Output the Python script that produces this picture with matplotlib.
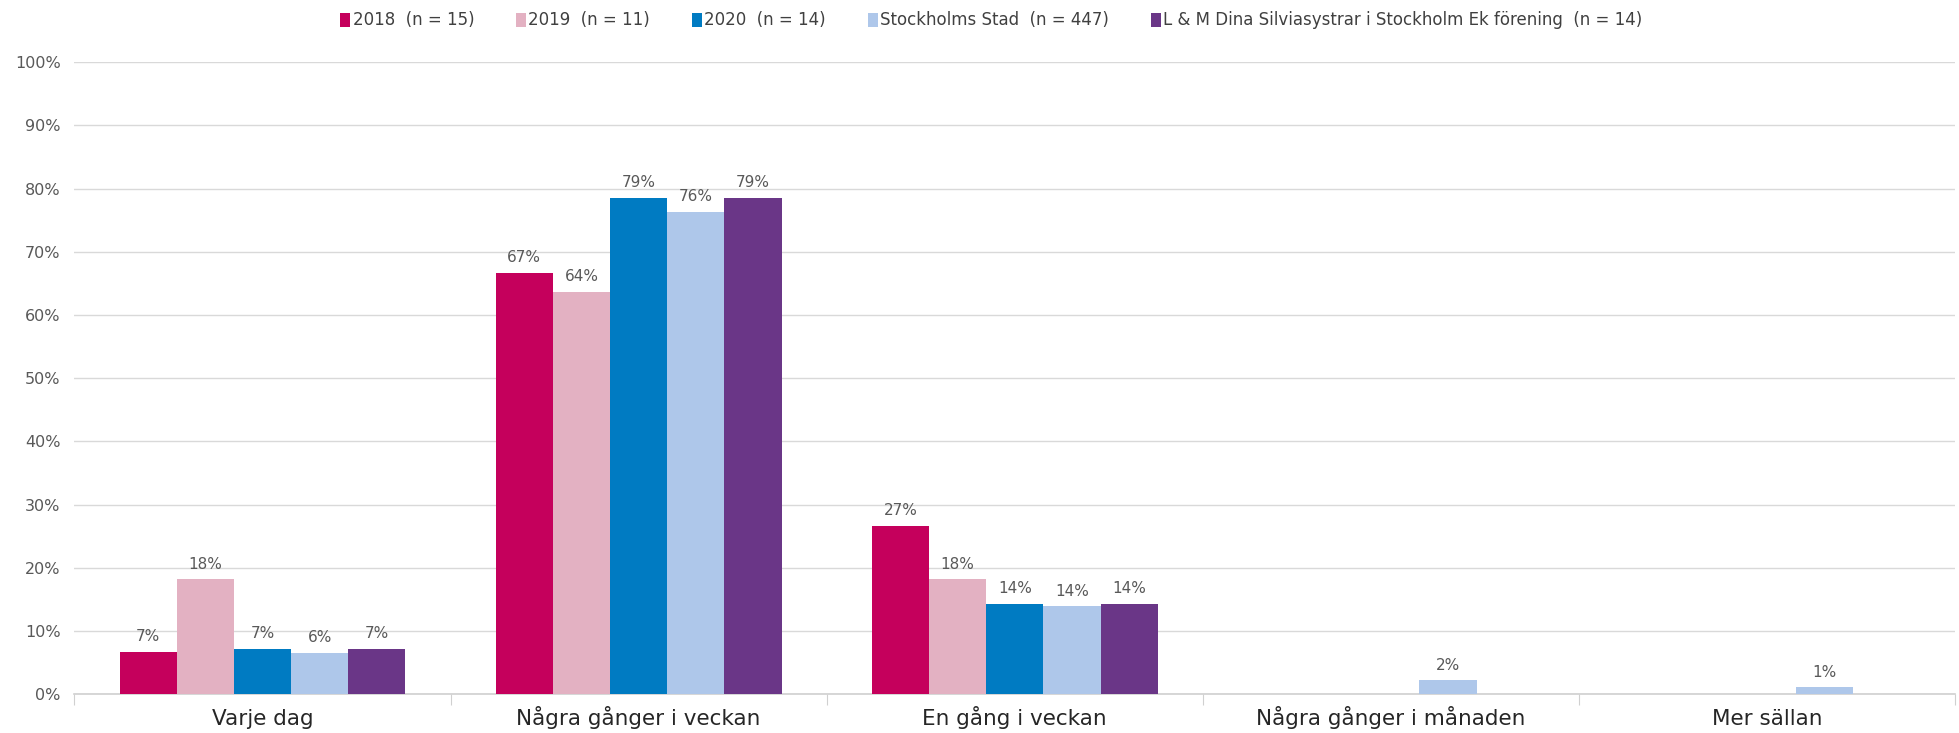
import numpy as np
import matplotlib.pyplot as plt
from matplotlib.ticker import PercentFormatter
from matplotlib.transforms import offset_copy

# Data
kategorier = ['Varje dag', 'Några gånger i veckan', 'En gång i veckan',
              'Några gånger i månaden', 'Mer sällan']
serier = ['2018  (n = 15)', '2019  (n = 11)', '2020  (n = 14)',
          'Stockholms Stad  (n = 447)',
          'L & M Dina Silviasystrar i Stockholm Ek förening  (n = 14)']
v2018 = [6.67, 66.67, 26.67, 0, 0]
v2019 = [18.18, 63.64, 18.18, 0, 0]
v2020 = [7.14, 78.57, 14.29, 0, 0]
vstad = [6.5, 76.3, 13.9, 2.2, 1.1]
vlm = [7.14, 78.57, 14.29, 0, 0]
etiketter_visas = [[1, 1, 1, 0, 0], [1, 1, 1, 0, 0], [1, 1, 1, 0, 0],
                   [1, 1, 1, 1, 1], [1, 1, 1, 0, 0]]
farger = ['#C5005C', '#E3B1C2', '#007BC2', '#AEC7EA', '#6A3687']

plt.rcParams['font.family'] = ['DejaVu Sans']

fig = plt.figure(figsize=(19.59, 7.33), dpi=100)
ax = fig.add_axes([0.038, 0.053, 0.96, 0.862])

x = np.arange(len(kategorier))
bredd = 0.152
for i, (vals, farg, namn) in enumerate(zip([v2018, v2019, v2020, vstad, vlm], farger, serier)):
    pos = x + (i - 2) * bredd
    ax.bar(pos, vals, bredd, color=farg, label=namn, zorder=3)
    for p, v, s in zip(pos, vals, etiketter_visas[i]):
        if s:
            ax.text(p, v + 1.2, f'{v:.0f}%', ha='center', va='bottom',
                    fontsize=11, color='#595959')

ax.set_xlim(-0.5, 4.5)
ax.set_ylim(0, 100)
ax.set_yticks(np.arange(0, 101, 10))
ax.yaxis.set_major_formatter(PercentFormatter(decimals=0))
ax.grid(axis='y', color='#D9D9D9', linewidth=1, zorder=0)
for s in ['top', 'right', 'left']:
    ax.spines[s].set_visible(False)
ax.spines['bottom'].set_color('#D0D0D0')
ax.spines['bottom'].set_linewidth(1.2)
ax.tick_params(axis='y', length=0, labelsize=11.5, labelcolor='#595959', pad=10)

# category boundaries as ticks, labels placed on a common baseline
ax.set_xticks(np.arange(-0.5, 4.6, 1))
ax.set_xticklabels([])
ax.tick_params(axis='x', which='major', length=8, color='#D0D0D0')
trans = offset_copy(ax.get_xaxis_transform(), fig=fig, y=-22, units='points')
for xi, namn in zip(x, kategorier):
    ax.text(xi, 0, namn, transform=trans, ha='center', va='baseline',
            fontsize=15.5, color='#262626')

fig.legend(loc='upper center', bbox_to_anchor=(0.506, 1.005), ncol=5, frameon=False,
           fontsize=12, handlelength=0.6, handleheight=0.9, handletextpad=0.15,
           columnspacing=2.5, labelcolor='#404040')

fig.savefig('out.png', dpi=100)
